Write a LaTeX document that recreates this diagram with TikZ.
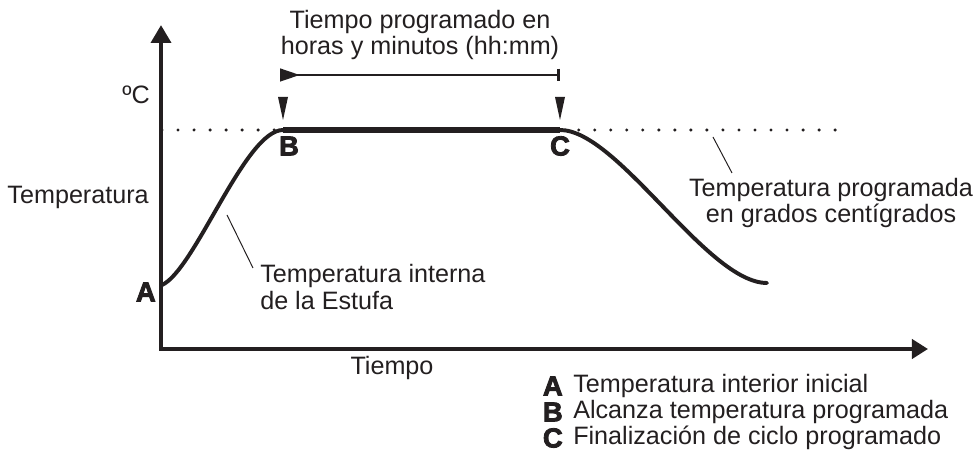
\documentclass[tikz,border=0pt]{standalone}
\usepackage{fontspec}
\setmainfont{Liberation Sans}
\newfontfamily\heavyfont{Liberation Sans}[BoldFeatures={FakeBold=3}]
\usetikzlibrary{arrows.meta}
\usetikzlibrary{positioning}

\definecolor{ink}{HTML}{231F20}

\tikzset{
  lbl/.style={inner sep=0pt, text=ink, font=\fontsize{17.9}{18.8}\selectfont},
  key/.style={inner sep=0pt, text=ink, font=\heavyfont\bfseries\fontsize{19.5}{19.5}\selectfont},
  axis/.style={line width=3.2pt, ink, line join=miter},
  curve/.style={line width=2.8pt, ink, line cap=round},
  leader/.style={line width=0.7pt, ink},
  marker/.style={fill=ink}
}

\begin{document}
\begin{tikzpicture}

  \useasboundingbox (0,0) rectangle (24.475,11.525);

  \coordinate (o) at (4.025,2.8);
  \coordinate (ytop) at (4.025,10.9);
  \coordinate (xend) at (23.2,2.8);
  \coordinate (pA) at (4.05,4.4);
  \coordinate (pB) at (7.075,8.275);
  \coordinate (pC) at (14.0,8.275);
  \coordinate (pD) at (19.175,4.45);

  \draw[ink, line width=2.4pt, line cap=round, dash pattern=on 0pt off 11.4pt] (4.05,8.275)--(21.2,8.275);

  \draw[axis, {Triangle[length=12.8pt,width=14pt]}-{Triangle[length=11.4pt,width=13.5pt]}] (ytop)--(o)--(xend);

  \draw[curve] (pA) .. controls (4.875,4.775) and (6.125,8.275) .. (pB);
  \draw[line width=4.3pt, ink] (pB)--(pC);
  \draw[curve] (pC) .. controls (15.45,8.275) and (17.675,4.45) .. (pD);

  \coordinate (tl) at (7.0,9.65);
  \coordinate (tr) at (14.0,9.65);
  \draw[line width=1.1pt, ink, {Triangle[reversed,length=14pt,width=9.2pt]}-{Bar[width=9.2pt,line width=2pt]}] (tl)--(tr);

  \fill[marker] (6.95,9.1)--(7.2,9.1)--(7.075,8.525)--cycle;
  \fill[marker] (13.875,9.1)--(14.125,9.1)--(14.0,8.525)--cycle;

  \node[lbl, align=center] at (10.5,10.65) (span) {Tiempo programado en\\horas y minutos (hh:mm)};
  \node[lbl, anchor=east] at (3.75,9.15) (unit) {ºC};
  \node[lbl, anchor=east] at (3.725,6.6) (ylbl) {Temperatura};
  \node[lbl] at (9.8,2.325) (xlbl) {Tiempo};

  \node[key, anchor=east] at (3.9,4.225) (mA) {A};
  \node[key] at (7.225,7.875) (mB) {B};
  \node[key] at (14.0,7.875) (mC) {C};

  \node[lbl, align=left, anchor=west] at (6.5,4.35) (inner) {Temperatura interna\\de la Estufa};
  \coordinate (i1) at (5.675,6.15);
  \coordinate (i2) at (6.325,4.825);
  \draw[leader] (i1)--(i2);

  \node[lbl, align=center] at (20.775,6.45) (setp) {Temperatura programada\\en grados centígrados};
  \coordinate (s1) at (17.825,8.1);
  \coordinate (s2) at (18.3,7.2);
  \draw[leader] (s1)--(s2);

  \node[key, anchor=east] at (14.075,1.875) (kA) {A};
  \node[lbl, right=0.25 of kA] (tA) {Temperatura interior inicial};
  \node[key, anchor=east] at (14.075,1.225) (kB) {B};
  \node[lbl, right=0.25 of kB] (tB) {Alcanza temperatura programada};
  \node[key, anchor=east] at (14.075,0.575) (kC) {C};
  \node[lbl, right=0.25 of kC] (tC) {Finalización de ciclo programado};

\end{tikzpicture}
\end{document}
